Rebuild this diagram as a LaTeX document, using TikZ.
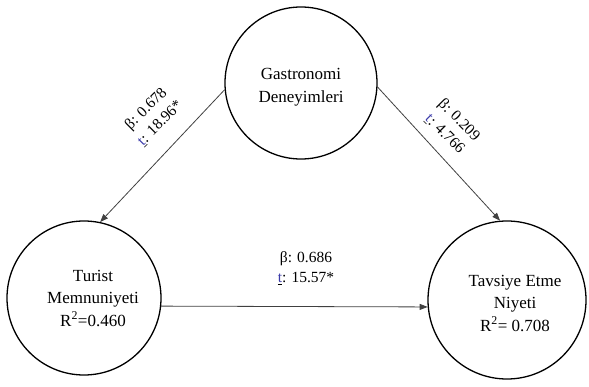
\documentclass[tikz,border=0pt]{standalone}
\usepackage{fontspec}
\setmainfont{Liberation Serif}
\usetikzlibrary{arrows.meta}
\definecolor{tblue}{RGB}{60,60,170}
\newcommand{\tmark}{\underline{\textcolor{tblue}{t}}}
\tikzset{
  circ/.style={circle, draw=black, line width=1.3pt, inner sep=0pt},
  txt/.style={align=center, font=\fontsize{17}{22.5}\selectfont, inner sep=0pt},
  lbl/.style={align=center, font=\fontsize{15.5}{20}\selectfont, inner sep=0pt},
  arr/.style={draw=black!75, line width=0.8pt, -{Triangle[length=8pt,width=6pt]}}
}
\begin{document}
\begin{tikzpicture}[x=1pt,y=-1pt]
\useasboundingbox (0,0) rectangle (589,387);
\node[circ, minimum size=152pt] (gd) at (301,83) {};
\node[circ, minimum size=154pt] (tm) at (84,298) {};
\node[circ, minimum size=158pt] (te) at (507,300) {};
\node[txt] (gdt) at (301,87) {Gastronomi\\Deneyimleri};
\node[txt] (tmt) at (93,298) {Turist\\Memnuniyeti\\R\textsuperscript{2}=0.460};
\node[txt] (tet) at (515,303) {Tavsiye Etme\\Niyeti\\R\textsuperscript{2}= 0.708};
\draw[arr] (gd.185) -- (tm.78);
\draw[arr] (gd.-3) -- (te.95);
\draw[arr] (tm.-6.7) -- (te.185);
\node[lbl, rotate=45] (l1) at (153,116) {β: 0.678\\\tmark: 18.96*};
\node[lbl, rotate=-45] (l2) at (452,127) {β: 0.209\\\tmark: 4.766};
\node[lbl] (l3) at (306,268) {β: 0.686\\\tmark: 15.57*};
\end{tikzpicture}
\end{document}
